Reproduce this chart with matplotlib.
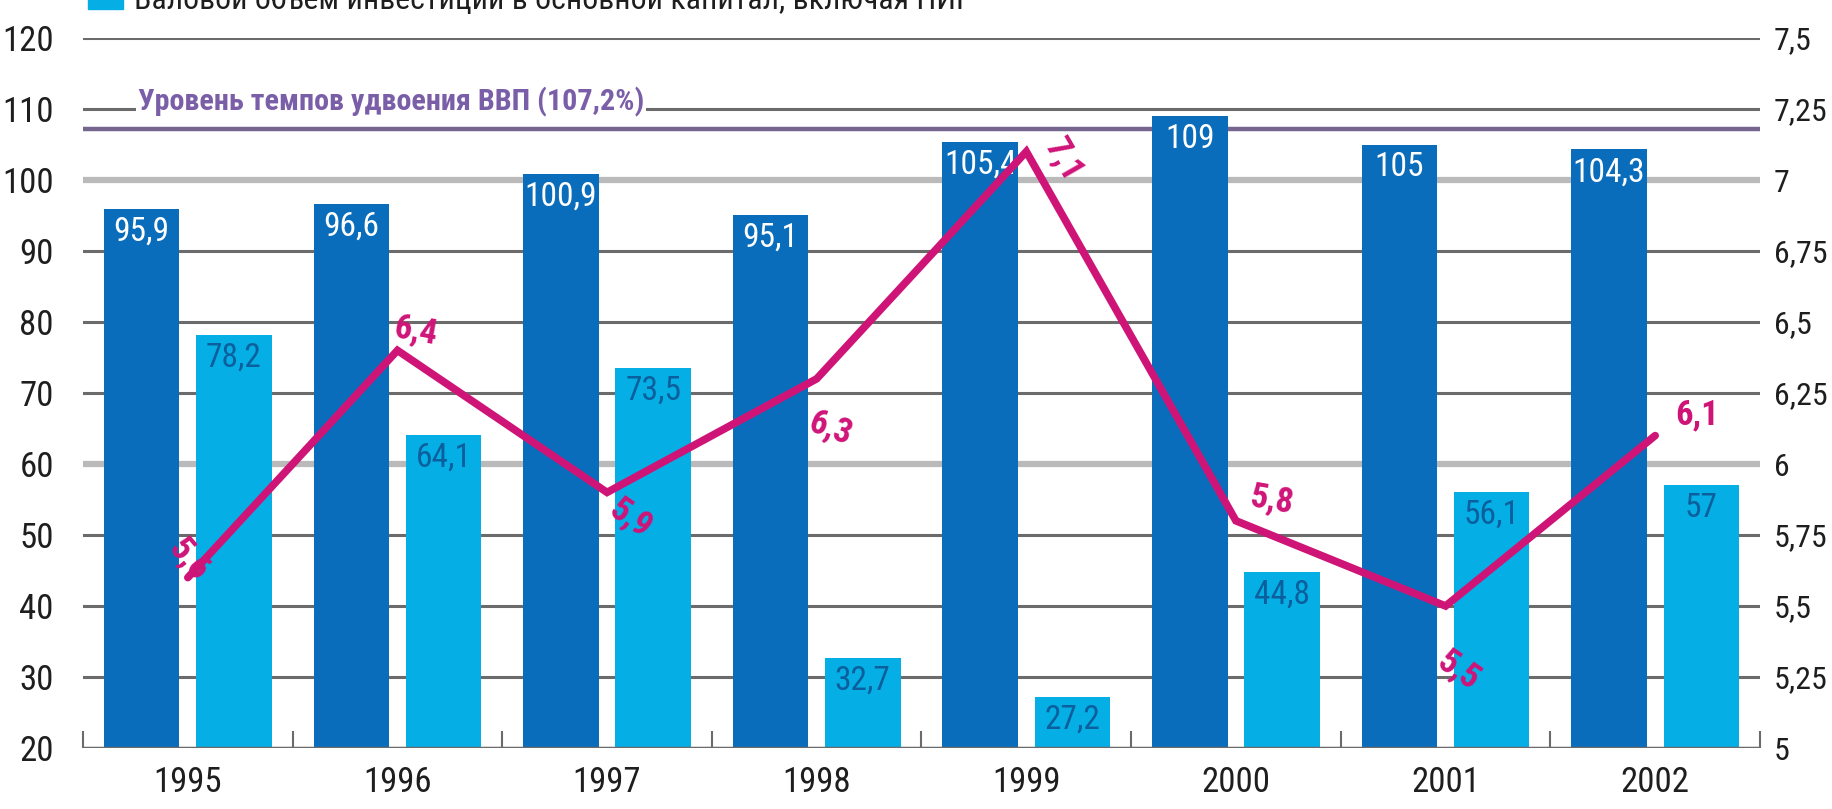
import matplotlib
matplotlib.use("Agg")
import matplotlib.pyplot as plt
from matplotlib import font_manager

# --- data -------------------------------------------------------------
years = ["1995", "1996", "1997", "1998", "1999", "2000", "2001", "2002"]
gdp_growth_index = [95.9, 96.6, 100.9, 95.1, 105.4, 109, 105, 104.3]
investment_index = [78.2, 64.1, 73.5, 32.7, 27.2, 44.8, 56.1, 57]
line_values = [5.6, 6.4, 5.9, 6.3, 7.1, 5.8, 5.5, 6.1]
left_ticks = [20, 30, 40, 50, 60, 70, 80, 90, 100, 110, 120]
right_ticks = [5, 5.25, 5.5, 5.75, 6, 6.25, 6.5, 6.75, 7, 7.25, 7.5]
right_tick_labels = ["5", "5,25", "5,5", "5,75", "6", "6,25", "6,5", "6,75", "7", "7,25", "7,5"]
doubling_level = 107.2
doubling_label = "Уровень темпов удвоения ВВП (107,2%)"
legend_label = "Валовой объем инвестиций в основной капитал, включая НИР"


def fmt(v):
    s = ("%.1f" % v).rstrip("0").rstrip(".")
    return s.replace(".", ",")


# --- fonts ------------------------------------------------------------
names = {f.name for f in font_manager.fontManager.ttflist}


def pick(prefs):
    for p in prefs:
        if p in names:
            return p
    return "Liberation Sans"


NARROW = pick(["Roboto Condensed", "PT Sans Narrow", "Archivo Narrow",
               "Liberation Sans Narrow", "Barlow Condensed", "Asap Condensed"])
NARROW_CYR = pick(["Roboto Condensed", "PT Sans Narrow", "Open Sans Condensed",
                   "Liberation Sans Narrow", "Fira Sans Condensed", "IBM Plex Sans Condensed"])
FAM = [NARROW, "Liberation Sans", "DejaVu Sans"]
FAM_CYR = [NARROW_CYR, "Liberation Sans", "DejaVu Sans"]
plt.rcParams["font.family"] = FAM

DARK = "#0a6dbb"
LIGHT = "#06aee6"
MAGENTA = "#cf1478"
GRID_DARK = "#6b6b6b"
GRID_LIGHT = "#bababa"
PURPLE = "#7a5fa8"
TEXT = "#1e1e1e"

W, H = 1833, 809
fig = plt.figure(figsize=(W / 100, H / 100), dpi=100)
ax = fig.add_axes([83 / W, 1 - 748 / H, (1760 - 83) / W, (748 - 38) / H])
ax2 = ax.twinx()

x = list(range(len(years)))
off, w = 0.22, 0.36

# horizontal grid
for v in left_ticks:
    if v in (60, 100):
        ax.axhline(v, color=GRID_LIGHT, lw=4.5, zorder=1)
    else:
        ax.axhline(v, color=GRID_DARK, lw=2.2, zorder=1)
ax.axhline(doubling_level, color="#75658f", lw=3.2, zorder=1)

bars1 = ax.bar([i - off for i in x], gdp_growth_index, width=w, color=DARK, zorder=3)
bars2 = ax.bar([i + off for i in x], investment_index, width=w, color=LIGHT, zorder=3)

for b, v in zip(bars1, gdp_growth_index):
    ax.annotate(fmt(v), (b.get_x() + b.get_width() / 2, v), xytext=(0, -5),
                textcoords="offset points", ha="center", va="top",
                color="white", fontsize=24)
for b, v in zip(bars2, investment_index):
    ax.annotate(fmt(v), (b.get_x() + b.get_width() / 2, v), xytext=(0, -5),
                textcoords="offset points", ha="center", va="top",
                color="#0b5f9c", fontsize=24)

dl = ax.text(-0.5 + 55 / 210, 108.9, doubling_label, color=PURPLE, fontsize=22,
             ha="left", va="bottom", zorder=2, fontweight="bold", family=FAM_CYR,
             bbox=dict(facecolor="white", edgecolor="none", pad=1.0))

ax.set_xlim(-0.5, len(years) - 0.5)
ax.set_ylim(20, 120)
ax.set_yticks(left_ticks)
ax.set_yticklabels([str(v) for v in left_ticks])
ax.set_xticks(x)
ax.set_xticklabels(years)
ax.set_xticks([i - 0.5 for i in range(len(years) + 1)], minor=True)
ax.tick_params(axis="x", which="major", length=0, pad=13, labelsize=25, colors=TEXT)
ax.tick_params(axis="x", which="minor", direction="in", length=12, width=1.5, color=GRID_DARK)
ax.tick_params(axis="y", length=0, pad=21, labelsize=25, colors=TEXT)
for s in ax.spines.values():
    s.set_visible(False)
ax.axhline(20, color=GRID_DARK, lw=2.5, zorder=4)

# growth line on the right axis
ax2.set_ylim(5, 7.5)
ax2.set_yticks(right_ticks)
ax2.set_yticklabels(right_tick_labels)
ax2.tick_params(axis="y", length=0, pad=10, labelsize=23, colors=TEXT)
for s in ax2.spines.values():
    s.set_visible(False)
ax2.plot(x, line_values, color=MAGENTA, lw=5.5, solid_capstyle="round",
         solid_joinstyle="miter", zorder=5)

label_pos = [(1, 13, -50), (13, 14, -10), (17, -19, -35), (10, -36, -20),
             (27, -6, -60), (26, 15, -10), (9, -46, -35), (30, 15, 0)]
for xi, v, (dx, dy, rot) in zip(x, line_values, label_pos):
    ax2.annotate(fmt(v), (xi, v), xytext=(dx, dy), textcoords="offset points",
                 ha="center", va="center", rotation=rot, color=MAGENTA,
                 fontsize=25, fontweight="bold", zorder=6)

# legend entry at the top edge
fig.patches.append(plt.Rectangle((88 / W, 1 - 9 / H), 35 / W, 12 / H,
                                 transform=fig.transFigure, color=LIGHT, clip_on=False))
lg = fig.text(134 / W, 1 - 9 / H, legend_label, fontsize=28, color=TEXT,
              ha="left", va="baseline", family=FAM_CYR)

# size the two long captions to their widths
fig.canvas.draw()
r = fig.canvas.get_renderer()
for t, target in ((lg, 836), (dl, 505)):
    wpx = t.get_window_extent(r).width
    t.set_fontsize(t.get_fontsize() * target / wpx)

fig.savefig("out.png", dpi=100, facecolor="white")
